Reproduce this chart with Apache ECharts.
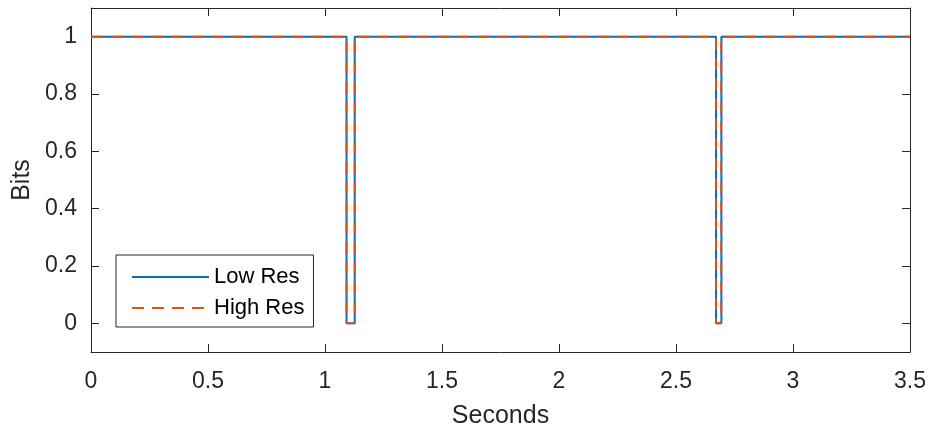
<!DOCTYPE html>
<html>
<head>
<meta charset="utf-8">
<script src="https://cdn.jsdelivr.net/npm/echarts@6/dist/echarts.min.js"></script>
<style>
html,body{margin:0;padding:0;background:#fff;}
#chart{width:928px;height:431px;}
</style>
</head>
<body>
<div id="chart"></div>
<script>
// Data
const seriesNames = ['Low Res', 'High Res'];
const lowResTime  = [0, 1.092, 1.092, 1.127, 1.127, 2.671, 2.671, 2.694, 2.694, 3.5];
const lowResBits  = [1, 1, 0, 0, 1, 1, 0, 0, 1, 1];
const highResTime = [0, 1.092, 1.092, 1.127, 1.127, 2.671, 2.671, 2.693, 2.693, 3.5];
const highResBits = [1, 1, 0, 0, 1, 1, 0, 0, 1, 1];
const yTickValues = [0, 0.2, 0.4, 0.6, 0.8, 1];

const FONT = '"Liberation Sans", Arial, Helvetica, sans-serif';
const AX = '#262626';

function pairs(xs, ys) { return xs.map((x, i) => [x, ys[i]]); }

const chart = echarts.init(document.getElementById('chart'), null, {renderer: 'canvas'});

const xBase = {
  type: 'value', min: 0, max: 3.5, interval: 0.5,
  axisLine: {show: true, onZero: false, lineStyle: {color: AX, width: 1}},
  axisTick: {show: true, inside: true, length: 8, lineStyle: {color: AX, width: 1}},
  splitLine: {show: false}
};
const yBase = {
  type: 'value', min: -0.1, max: 1.1,
  axisLine: {show: true, onZero: false, lineStyle: {color: AX, width: 1}},
  axisTick: {show: true, inside: true, length: 8, customValues: yTickValues, lineStyle: {color: AX, width: 1}},
  splitLine: {show: false}
};

chart.setOption({
  animation: false,
  backgroundColor: '#ffffff',
  grid: {left: 91, right: 18, top: 8, bottom: 79, containLabel: false, outerBoundsMode: 'none'},
  legend: {
    data: seriesNames,
    orient: 'vertical',
    left: 116, top: 255,
    padding: [11, 9, 8, 15],
    itemWidth: 77, itemHeight: 22, itemGap: 9,
    borderColor: AX, borderWidth: 1,
    backgroundColor: '#ffffff',
    itemStyle: {opacity: 0},
    textStyle: {fontFamily: FONT, fontSize: 22, color: '#000000'}
  },
  xAxis: [
    Object.assign({}, xBase, {
      position: 'bottom',
      name: 'Seconds', nameLocation: 'middle', nameGap: 52,
      nameTextStyle: {fontFamily: FONT, fontSize: 25, color: AX},
      axisLabel: {show: true, margin: 18, fontFamily: FONT, fontSize: 23, color: AX,
        formatter: v => String(+v.toFixed(2))}
    }),
    Object.assign({}, xBase, {position: 'top', axisLabel: {show: false}})
  ],
  yAxis: [
    Object.assign({}, yBase, {
      position: 'left',
      name: 'Bits', nameLocation: 'middle', nameGap: 53, nameRotate: 90,
      nameTextStyle: {fontFamily: FONT, fontSize: 25, color: AX},
      axisLabel: {show: true, margin: 14, fontFamily: FONT, fontSize: 23, color: AX,
        customValues: yTickValues, formatter: v => String(+v.toFixed(2))}
    }),
    Object.assign({}, yBase, {position: 'right', axisLabel: {show: false}})
  ],
  series: [
    {
      name: seriesNames[0], type: 'line', xAxisIndex: 0, yAxisIndex: 0,
      data: pairs(lowResTime, lowResBits),
      showSymbol: false, symbol: 'none',
      lineStyle: {color: '#0072BD', width: 2, type: 'solid'},
      itemStyle: {color: '#0072BD'}
    },
    {
      name: seriesNames[1], type: 'line', xAxisIndex: 0, yAxisIndex: 0,
      data: pairs(highResTime, highResBits),
      showSymbol: false, symbol: 'none',
      lineStyle: {color: '#D95319', width: 2, type: [12, 8]},
      itemStyle: {color: '#D95319'}
    }
  ]
});
</script>
</body>
</html>
